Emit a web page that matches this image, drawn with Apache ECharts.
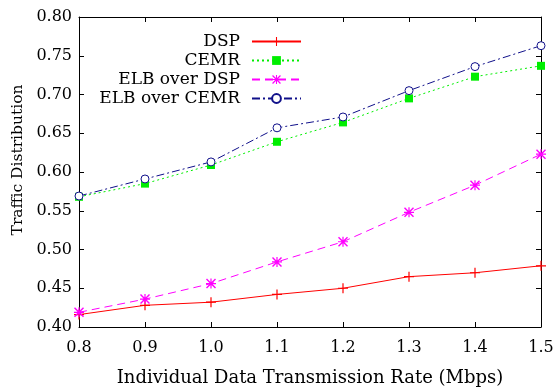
<!DOCTYPE html>
<html><head><meta charset="utf-8">
<script src="https://cdn.jsdelivr.net/npm/echarts@6/dist/echarts.min.js"></script>
<style>html,body{margin:0;padding:0;background:#fff}#c{width:558px;height:388px}</style>
</head><body><div id="c"></div>
<script>
const rates = [0.8, 0.9, 1.0, 1.1, 1.2, 1.3, 1.4, 1.5];
const dsp = [0.416, 0.428, 0.432, 0.442, 0.450, 0.465, 0.470, 0.479];
const cemr = [0.568, 0.585, 0.609, 0.639, 0.664, 0.695, 0.723, 0.737];
const elbDsp = [0.419, 0.436, 0.456, 0.484, 0.510, 0.548, 0.583, 0.623];
const elbCemr = [0.569, 0.591, 0.613, 0.657, 0.671, 0.705, 0.736, 0.763];
const seriesNames = ['DSP', 'CEMR', 'ELB over DSP', 'ELB over CEMR'];
const xTitle = 'Individual Data Transmission Rate (Mbps)';
const yTitle = 'Traffic Distribution';

const FONT = 'DejaVu Serif';
const plusPath = 'path://M4.4,0 L5.6,0 L5.6,10 L4.4,10 Z M0,4.4 L10,4.4 L10,5.6 L0,5.6 Z';
const starPath = 'path://M4.4,0 L5.6,0 L5.6,10 L4.4,10 Z M0,4.4 L10,4.4 L10,5.6 L0,5.6 Z M0,1 L1,0 L10,9 L9,10 Z M9,0 L10,1 L1,10 L0,9 Z';

function pts(arr){ return rates.map((x,i)=>[x, arr[i]]); }

const chart = echarts.init(document.getElementById('c'), null, {renderer:'canvas'});
const axisCommon = {
  axisLine:{show:true, lineStyle:{color:'#000', width:1}},
  axisTick:{show:true, inside:true, length:5, lineStyle:{color:'#000'}},
  splitLine:{show:false}
};
chart.setOption({
  animation:false,
  grid:{left:79, right:17, top:17, bottom:61, containLabel:false, outerBoundsMode:'none'},
  legend:{
    orient:'vertical', align:'right', right:251, top:28,
    itemWidth:49, itemHeight:11, itemGap:2,
    textStyle:{fontFamily:FONT, fontSize:17, color:'#000', padding:[0,7,0,0]},
    data:seriesNames
  },
  xAxis:[
    Object.assign({type:'value', min:0.8, max:1.5, interval:0.1, position:'bottom',
      name:xTitle, nameLocation:'middle', nameGap:42,
      nameTextStyle:{fontFamily:FONT, fontSize:18, color:'#000'},
      axisLabel:{fontFamily:FONT, fontSize:16, color:'#000', margin:13, formatter:v=>v.toFixed(1)}}, axisCommon),
    Object.assign({type:'value', min:0.8, max:1.5, interval:0.1, position:'top',
      axisLabel:{show:false}}, axisCommon)
  ],
  yAxis:[
    Object.assign({type:'value', min:0.4, max:0.8, interval:0.05, position:'left',
      name:yTitle, nameLocation:'middle', nameGap:53, nameRotate:90,
      nameTextStyle:{fontFamily:FONT, fontSize:15.5, color:'#000', padding:[0,0,0,24]},
      axisLabel:{fontFamily:FONT, fontSize:16, color:'#000', margin:7, formatter:v=>v.toFixed(2)}}, axisCommon),
    Object.assign({type:'value', min:0.4, max:0.8, interval:0.05, position:'right',
      axisLabel:{show:false}}, axisCommon)
  ],
  series:[
    {name:seriesNames[0], type:'line', data:pts(dsp), symbol:plusPath, symbolSize:10,
      itemStyle:{color:'#ff0000', borderWidth:0}, lineStyle:{color:'#ff0000', width:1, type:'solid'}},
    {name:seriesNames[1], type:'line', data:pts(cemr), symbol:'rect', symbolSize:8,
      itemStyle:{color:'#00ee00', borderWidth:0}, lineStyle:{color:'#00ee00', width:1, type:[2,3]}},
    {name:seriesNames[2], type:'line', data:pts(elbDsp), symbol:starPath, symbolSize:10,
      itemStyle:{color:'#ff00ff', borderWidth:0}, lineStyle:{color:'#ff00ff', width:1, type:[8,5]}},
    {name:seriesNames[3], type:'line', data:pts(elbCemr), symbol:'circle', symbolSize:8,
      itemStyle:{color:'#ffffff', borderColor:'#10108a', borderWidth:1}, lineStyle:{color:'#10108a', width:1, type:[8,3,2,3]}}
  ]
});
</script></body></html>
